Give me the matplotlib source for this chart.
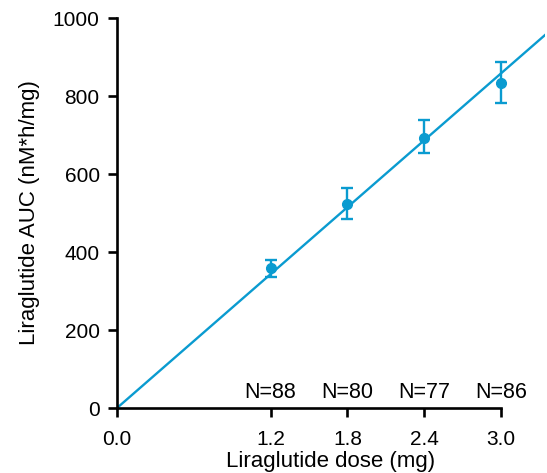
import numpy as np
import matplotlib.pyplot as plt

plt.rcParams['font.family'] = ['Liberation Sans', 'DejaVu Sans']

# data
dose = np.array([1.2, 1.8, 2.4, 3.0])
auc = np.array([359, 524, 692, 833])
auc_hi = np.array([379, 564, 738, 887])
auc_lo = np.array([336, 485, 654, 782])
n_labels = ['N=88', 'N=80', 'N=77', 'N=86']
slope = 286.0  # fitted line through origin, nM*h/mg per mg

blue = '#0A9BD0'

fig = plt.figure(figsize=(5.47, 4.73), dpi=100)
ax = fig.add_axes([117/547, 1 - 408/473, 428/547, 390/473])

xl = np.array([0, 3.5])
ax.plot(xl, slope * xl, color=blue, lw=1.7, zorder=2)
ax.errorbar(dose, auc, yerr=[auc - auc_lo, auc_hi - auc], fmt='o', color=blue,
            ms=7, elinewidth=1.7, capsize=4, capthick=1.7, zorder=3)

for d, lab in zip(dose, n_labels):
    ax.text(d, 14, lab, ha='center', va='bottom', fontsize=15.5)

ax.set_xlim(0, 428/128)
ax.set_ylim(0, 1000)
ax.set_xticks([0.0, 1.2, 1.8, 2.4, 3.0])
ax.set_xticklabels(['0.0', '1.2', '1.8', '2.4', '3.0'])
ax.set_yticks([0, 200, 400, 600, 800, 1000])
ax.spines['top'].set_visible(False)
ax.spines['right'].set_visible(False)
ax.spines['bottom'].set_bounds(0, 3.0)
for s in ['left', 'bottom']:
    ax.spines[s].set_linewidth(1.9)
ax.tick_params(direction='out', length=6.5, width=1.9, labelsize=15)
ax.tick_params(axis='x', pad=9)
ax.tick_params(axis='y', pad=6)
ax.set_xlabel('Liraglutide dose (mg)', fontsize=16, labelpad=1.5)
ax.set_ylabel('Liraglutide AUC (nM*h/mg)', fontsize=16, labelpad=9)

fig.savefig('out.png', dpi=100)
